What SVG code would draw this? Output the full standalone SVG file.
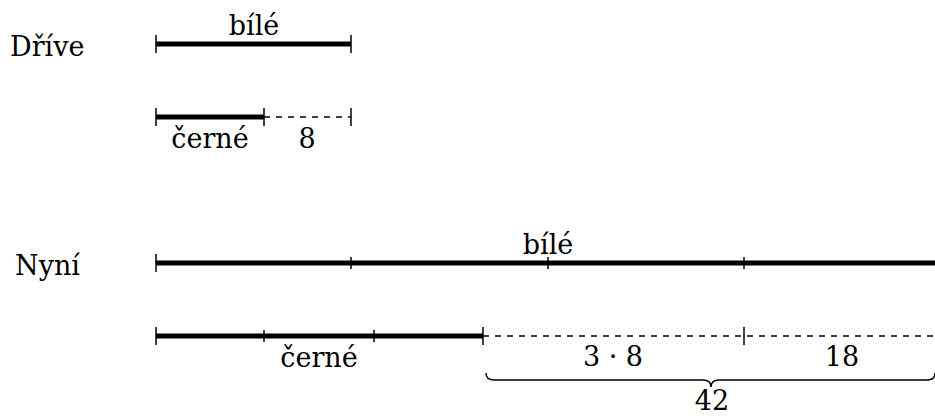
<svg xmlns="http://www.w3.org/2000/svg" width="935" height="416" viewBox="0 0 935 416">
<style>
text{font-family:"DejaVu Serif",serif;font-size:27px;fill:#000}
.m{text-anchor:middle}
.thick{stroke:#000;stroke-width:5;fill:none}
.dash{stroke:#000;stroke-width:1.3;stroke-dasharray:6 6;fill:none}
.tick{stroke:#000;stroke-width:1.5;fill:none}
.brace{stroke:#000;stroke-width:1.5;fill:none}
</style>
<rect width="935" height="416" fill="#fff"/>
<g id="labels">
<text x="10" y="56">Dříve</text>
<text x="15" y="275">Nyní</text>
</g>
<g id="drive-bile">
<line class="thick" x1="156" y1="44" x2="351" y2="44"/>
<line class="tick" x1="156" y1="35" x2="156" y2="53"/>
<line class="tick" x1="351" y1="35" x2="351" y2="53"/>
<text class="m" x="254" y="35">bílé</text>
</g>
<g id="drive-cerne">
<line class="thick" x1="156" y1="117" x2="264" y2="117"/>
<line class="dash" x1="264" y1="117" x2="351" y2="117"/>
<line class="tick" x1="156" y1="108" x2="156" y2="126"/>
<line class="tick" x1="264" y1="108" x2="264" y2="126"/>
<line class="tick" x1="351" y1="108" x2="351" y2="126"/>
<text class="m" x="210" y="148">černé</text>
<text class="m" x="307" y="148">8</text>
</g>
<g id="nyni-bile">
<line class="thick" x1="156" y1="263" x2="935" y2="263"/>
<line class="tick" x1="156" y1="254" x2="156" y2="272"/>
<line class="tick" x1="351" y1="257" x2="351" y2="269"/>
<line class="tick" x1="548" y1="257" x2="548" y2="269"/>
<line class="tick" x1="744" y1="257" x2="744" y2="269"/>
<text class="m" x="548" y="254">bílé</text>
</g>
<g id="nyni-cerne">
<line class="thick" x1="156" y1="336" x2="483" y2="336"/>
<line class="dash" x1="483" y1="336" x2="935" y2="336"/>
<line class="tick" x1="156" y1="327" x2="156" y2="345"/>
<line class="tick" x1="264" y1="330" x2="264" y2="342"/>
<line class="tick" x1="374" y1="330" x2="374" y2="342"/>
<line class="tick" x1="483" y1="327" x2="483" y2="345"/>
<line class="tick" x1="744" y1="327" x2="744" y2="345"/>
<text class="m" x="319" y="367">černé</text>
<text class="m" x="613" y="366">3 · 8</text>
<text class="m" x="842" y="366">18</text>
</g>
<g id="brace42">
<path class="brace" d="M486,373 Q486,380 494,380 L703,380 Q711,380 711,387 Q711,380 719,380 L927,380 Q935,380 935,373"/>
<text class="m" x="712" y="410">42</text>
</g>
</svg>
